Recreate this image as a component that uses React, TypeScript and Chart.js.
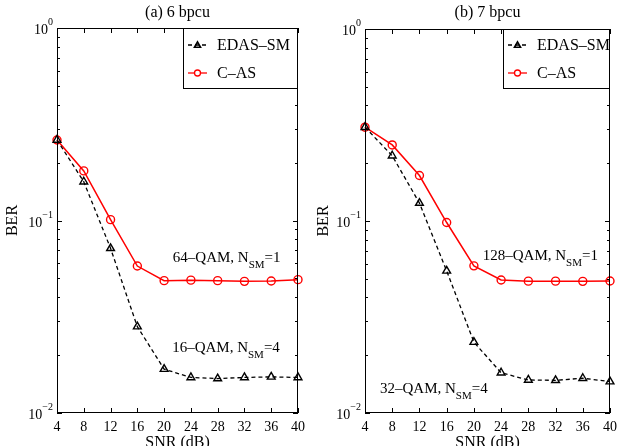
import React, { useEffect, useRef } from "react";
import { Chart, registerables } from "chart.js";

Chart.register(...registerables);

// ---------- data ----------
const snr = [4, 8, 12, 16, 20, 24, 28, 32, 36, 40];
const xTickValues = [4, 8, 12, 16, 20, 24, 28, 32, 36, 40];
const yTickValues = [0.01, 0.1, 1];
const yTickExponents = ["\u22122", "\u22121", "0"];

const edasSm6 = [0.262, 0.159, 0.0717, 0.0281, 0.0169, 0.0153, 0.0151, 0.0153, 0.0154, 0.0153];
const cAs6 = [0.262, 0.181, 0.101, 0.058, 0.0487, 0.049, 0.0487, 0.0483, 0.0485, 0.0493];
const edasSm7 = [0.308, 0.2187, 0.124, 0.055, 0.0234, 0.0162, 0.01486, 0.0148, 0.01517, 0.01457];
const cAs7 = [0.308, 0.249, 0.1725, 0.0982, 0.0584, 0.0493, 0.0486, 0.0486, 0.0485, 0.0487];

const seriesNames = ["EDAS\u2013SM", "C\u2013AS"];
const titles = ["(a) 6 bpcu", "(b) 7 bpcu"];
const xTitle = "SNR (dB)";
const yTitle = "BER";

const FONT = '"Liberation Serif", "Times New Roman", Times, serif';
const RED = "#ff0000";

type Annot = { main: string; sub: string; tail: string; x: number; y: number };

const annots6: Annot[] = [
  { main: "64\u2013QAM, N", sub: "SM", tail: "=1", x: 21.3, y: 0.061 },
  { main: "16\u2013QAM, N", sub: "SM", tail: "=4", x: 21.2, y: 0.0207 },
];
const annots7: Annot[] = [
  { main: "128\u2013QAM, N", sub: "SM", tail: "=1", x: 21.3, y: 0.0627 },
  { main: "32\u2013QAM, N", sub: "SM", tail: "=4", x: 6.2, y: 0.0127 },
];

// ---------- plugin drawing the Matlab-style frame ----------
function drawTriangle(ctx: CanvasRenderingContext2D, x: number, y: number, r: number) {
  ctx.beginPath();
  ctx.moveTo(x, y - r);
  ctx.lineTo(x + r * 0.95, y + r * 0.7);
  ctx.lineTo(x - r * 0.95, y + r * 0.7);
  ctx.closePath();
  ctx.stroke();
}

const matlabPlugin = {
  id: "matlabFrame",
  afterDraw(chart: any, _args: any, opts: any) {
    const ctx: CanvasRenderingContext2D = chart.ctx;
    const { left, right, top, bottom } = chart.chartArea;
    const xs = chart.scales.x;
    const ys = chart.scales.y;
    ctx.save();
    ctx.strokeStyle = "#000";
    ctx.fillStyle = "#000";
    ctx.lineWidth = 1;
    ctx.setLineDash([]);

    // box
    ctx.strokeRect(left + 0.5, top + 0.5, right - left - 1, bottom - top - 1);

    // x ticks
    ctx.beginPath();
    for (const v of xTickValues) {
      const px = Math.round(xs.getPixelForValue(v)) + 0.5;
      ctx.moveTo(px, bottom);
      ctx.lineTo(px, bottom - 5);
      ctx.moveTo(px, top);
      ctx.lineTo(px, top + 5);
    }
    // y major ticks
    for (const v of yTickValues) {
      const py = Math.round(ys.getPixelForValue(v)) + 0.5;
      ctx.moveTo(left, py);
      ctx.lineTo(left + 5, py);
      ctx.moveTo(right, py);
      ctx.lineTo(right - 5, py);
    }
    // y minor ticks
    for (const d of [0.01, 0.1]) {
      for (let k = 2; k <= 9; k++) {
        const py = Math.round(ys.getPixelForValue(d * k)) + 0.5;
        ctx.moveTo(left, py);
        ctx.lineTo(left + 3, py);
        ctx.moveTo(right, py);
        ctx.lineTo(right - 3, py);
      }
    }
    ctx.stroke();

    // x tick labels
    ctx.font = `14px ${FONT}`;
    ctx.textAlign = "center";
    ctx.textBaseline = "middle";
    for (const v of xTickValues) {
      ctx.fillText(String(v), xs.getPixelForValue(v), bottom + 14);
    }

    // y tick labels with superscript
    yTickValues.forEach((v, i) => {
      const py = ys.getPixelForValue(v);
      ctx.font = `10px ${FONT}`;
      const ew = ctx.measureText(yTickExponents[i]).width;
      const endX = left - 4;
      ctx.textAlign = "left";
      ctx.textBaseline = "alphabetic";
      ctx.fillText(yTickExponents[i], endX - ew, py - 3);
      ctx.font = `14px ${FONT}`;
      ctx.textAlign = "right";
      ctx.fillText("10", endX - ew, py + 6);
    });

    // title
    ctx.font = `16px ${FONT}`;
    ctx.textAlign = "center";
    ctx.textBaseline = "middle";
    ctx.fillText(opts.title, (left + right) / 2, 13);

    // x title
    ctx.textBaseline = "alphabetic";
    ctx.fillText(xTitle, (left + right) / 2, 447);

    // y title
    ctx.save();
    ctx.translate(opts.yTitleX, (top + bottom) / 2);
    ctx.rotate(-Math.PI / 2);
    ctx.textBaseline = "middle";
    ctx.fillText(yTitle, 0, 0);
    ctx.restore();

    // annotations
    for (const a of opts.annots as Annot[]) {
      let x = xs.getPixelForValue(a.x);
      const y = ys.getPixelForValue(a.y);
      ctx.textAlign = "left";
      ctx.textBaseline = "alphabetic";
      ctx.font = `15px ${FONT}`;
      ctx.fillText(a.main, x, y);
      x += ctx.measureText(a.main).width;
      ctx.font = `11px ${FONT}`;
      ctx.fillText(a.sub, x, y + 6);
      x += ctx.measureText(a.sub).width;
      ctx.font = `15px ${FONT}`;
      ctx.fillText(a.tail, x, y);
    }

    // legend
    const lx = opts.legendLeft;
    const lb = 88;
    ctx.fillStyle = "#fff";
    ctx.fillRect(lx, top, right - lx, lb - top);
    ctx.strokeStyle = "#000";
    ctx.lineWidth = 1;
    ctx.strokeRect(lx + 0.5, top + 0.5, right - lx - 1, lb - top);
    const rows = [45, 73];
    // row 1: dashed black with triangle
    ctx.lineWidth = 1.3;
    ctx.setLineDash([4, 3]);
    ctx.beginPath();
    ctx.moveTo(lx + 5, rows[0]);
    ctx.lineTo(lx + 24, rows[0]);
    ctx.stroke();
    ctx.setLineDash([]);
    ctx.lineWidth = 1.6;
    drawTriangle(ctx, lx + 14.5, rows[0], 3.2);
    // row 2: red with circle
    ctx.strokeStyle = RED;
    ctx.lineWidth = 1.3;
    ctx.beginPath();
    ctx.moveTo(lx + 5, rows[1]);
    ctx.lineTo(lx + 24, rows[1]);
    ctx.stroke();
    ctx.beginPath();
    ctx.arc(lx + 14.5, rows[1], 3, 0, Math.PI * 2);
    ctx.fillStyle = "#fff";
    ctx.fill();
    ctx.stroke();
    ctx.fillStyle = "#000";
    ctx.font = `16px ${FONT}`;
    ctx.textAlign = "left";
    ctx.textBaseline = "middle";
    ctx.fillText(seriesNames[0], lx + 34, rows[0] + 1);
    ctx.fillText(seriesNames[1], lx + 34, rows[1] + 1);

    ctx.restore();
  },
};

type PanelCfg = {
  edas: number[];
  cas: number[];
  title: string;
  annots: Annot[];
  padding: { left: number; right: number; top: number; bottom: number };
  legendLeft: number;
  yTitleX: number;
};

function buildConfig(p: PanelCfg): any {
  return {
    type: "line",
    data: {
      datasets: [
        {
          label: seriesNames[0],
          data: snr.map((x, i) => ({ x, y: p.edas[i] })),
          borderColor: "#000",
          borderWidth: 1.3,
          borderDash: [4, 3],
          pointStyle: "triangle",
          pointRadius: 4.5,
          pointBorderWidth: 1.4,
          pointBorderColor: "#000",
          pointBackgroundColor: "rgba(0,0,0,0)",
          fill: false,
          tension: 0,
          clip: false,
        },
        {
          label: seriesNames[1],
          data: snr.map((x, i) => ({ x, y: p.cas[i] })),
          borderColor: RED,
          borderWidth: 1.5,
          pointStyle: "circle",
          pointRadius: 4,
          pointBorderWidth: 1.4,
          pointBorderColor: RED,
          pointBackgroundColor: "rgba(0,0,0,0)",
          fill: false,
          tension: 0,
          clip: false,
        },
      ],
    },
    options: {
      responsive: false,
      maintainAspectRatio: false,
      animation: false,
      layout: { padding: p.padding },
      plugins: {
        legend: { display: false },
        tooltip: { enabled: false },
        title: { display: false },
        matlabFrame: {
          title: p.title,
          annots: p.annots,
          legendLeft: p.legendLeft,
          yTitleX: p.yTitleX,
        },
      },
      scales: {
        x: { type: "linear", min: 4, max: 40, display: false },
        y: { type: "logarithmic", min: 0.01, max: 1, display: false },
      },
    },
    plugins: [matlabPlugin],
  };
}

function Panel({ cfg, left, width }: { cfg: PanelCfg; left: number; width: number }) {
  const ref = useRef<HTMLCanvasElement>(null);
  useEffect(() => {
    const chart = new Chart(ref.current as HTMLCanvasElement, buildConfig(cfg));
    return () => chart.destroy();
  }, []);
  return (
    <canvas
      ref={ref}
      width={width}
      height={446}
      style={{ position: "absolute", left, top: 0, width, height: 446 }}
    />
  );
}

const panelA: PanelCfg = {
  edas: edasSm6,
  cas: cAs6,
  title: titles[0],
  annots: annots6,
  padding: { left: 57, right: 12, top: 28, bottom: 33 },
  legendLeft: 183,
  yTitleX: 13,
};

const panelB: PanelCfg = {
  edas: edasSm7,
  cas: cAs7,
  title: titles[1],
  annots: annots7,
  padding: { left: 55, right: 9, top: 29, bottom: 33 },
  legendLeft: 193,
  yTitleX: 14,
};

export default function App() {
  return (
    <div
      style={{
        position: "absolute",
        left: 0,
        top: 0,
        width: 619,
        height: 446,
        background: "#fff",
        overflow: "hidden",
      }}
    >
      <Panel cfg={panelA} left={0} width={310} />
      <Panel cfg={panelB} left={310} width={309} />
    </div>
  );
}
